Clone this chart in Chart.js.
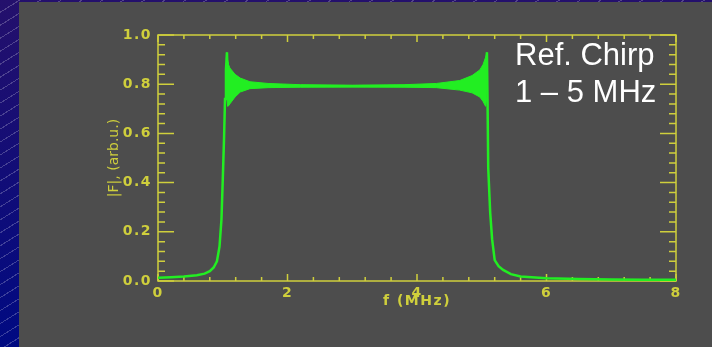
<!DOCTYPE html>
<html>
<head>
<meta charset="utf-8">
<script src="https://cdn.jsdelivr.net/npm/chart.js@4.4.1/dist/chart.umd.min.js"></script>
<style>
  html, body { margin: 0; padding: 0; }
  body {
    width: 712px;
    height: 347px;
    overflow: hidden;
    position: relative;
    background:
      repeating-linear-gradient(148deg, rgba(255,255,255,0) 0 10px, rgba(255,255,255,0.22) 10px 11px),
      linear-gradient(#24106c, #000a82);
  }
  #panel { position: absolute; left: 19px; top: 2px; right: 0; bottom: 0; background: #4d4d4d; }
  #chart { position: absolute; left: 0; top: 0; }
</style>
</head>
<body>
<div id="panel"></div>
<canvas id="chart" width="712" height="347"></canvas>
<script>
// rising edge (MHz, |F|)
const riseFreq = [0, 0.2, 0.4, 0.6, 0.72, 0.8, 0.86, 0.91, 0.95, 0.98, 1.0, 1.02, 1.035, 1.05, 1.065];
const riseMag = [0.013, 0.015, 0.018, 0.023, 0.03, 0.04, 0.055, 0.08, 0.14, 0.25, 0.41, 0.58, 0.74, 0.86, 0.93];

// middle of the passband
const midFreq = [1.08, 1.2, 1.5, 2.0, 3.0, 4.0, 4.6, 4.9, 5.06];
const midMag = [0.78, 0.79, 0.794, 0.793, 0.792, 0.793, 0.794, 0.79, 0.78];

// falling edge
const fallFreq = [5.08, 5.09, 5.1, 5.13, 5.16, 5.2, 5.26, 5.33, 5.45, 5.6, 6.0, 6.5, 7.0, 7.5, 8.0];
const fallMag = [0.93, 0.72, 0.46, 0.28, 0.17, 0.085, 0.06, 0.045, 0.028, 0.018, 0.011, 0.008, 0.006, 0.005, 0.005];

// envelope of the ripple band
const bandFreq = [1.06, 1.075, 1.09, 1.11, 1.19, 1.27, 1.42, 1.7, 2.2, 3.0, 3.8, 4.3, 4.66, 4.85, 4.97, 5.02, 5.06, 5.08];
const bandUpper = [0.93, 0.90, 0.88, 0.866, 0.84, 0.825, 0.81, 0.803, 0.798, 0.796, 0.798, 0.803, 0.815, 0.835, 0.858, 0.88, 0.91, 0.93];
const bandLower = [0.76, 0.71, 0.712, 0.72, 0.748, 0.768, 0.782, 0.786, 0.788, 0.789, 0.788, 0.786, 0.776, 0.765, 0.748, 0.73, 0.71, 0.75];

const xTicks = [0, 2, 4, 6, 8];
const yTicks = [0, 0.2, 0.4, 0.6, 0.8, 1.0];
const labelLines = ["Ref. Chirp", "1 \u2013 5 MHz"];

document.addEventListener("DOMContentLoaded", () => {
    const yellow = "#cfcf3c";
    const green = "#22ee22";
    const tickFont = { family: "DejaVu Sans", size: 14, weight: "bold" };
    const titleFont = { family: "DejaVu Sans", size: 14 };

    const toPoints = (xs, ys) => xs.map((x, i) => ({ x: x, y: ys[i] }));

    const mainLine = toPoints(riseFreq, riseMag)
        .concat(toPoints(midFreq, midMag))
        .concat(toPoints(fallFreq, fallMag));

    // frame + inward ticks on all four sides, drawn from the scales
    const framePlugin = {
        id: "frame",
        beforeDraw(chart) {
            chart.ctx.letterSpacing = "0px";
        },
        beforeDatasetsDraw(chart) {
            const ctx = chart.ctx;
            const a = chart.chartArea;
            const xs = chart.scales.x;
            const ys = chart.scales.y;
            ctx.save();
            ctx.strokeStyle = yellow;
            ctx.lineWidth = 1.5;
            ctx.strokeRect(a.left, a.top, a.right - a.left, a.bottom - a.top);
            ctx.beginPath();
            for (let i = 0; i <= 20; i++) {
                const px = xs.getPixelForValue(i * 0.4);
                const len = i % 5 === 0 ? 7 : 4;
                ctx.moveTo(px, a.bottom);
                ctx.lineTo(px, a.bottom - len);
                ctx.moveTo(px, a.top);
                ctx.lineTo(px, a.top + len);
            }
            for (let i = 0; i <= 25; i++) {
                const py = ys.getPixelForValue(i * 0.04);
                const len = i % 5 === 0 ? 16 : 7;
                ctx.moveTo(a.left, py);
                ctx.lineTo(a.left + len, py);
                ctx.moveTo(a.right, py);
                ctx.lineTo(a.right - len, py);
            }
            ctx.stroke();
            ctx.restore();
        },
        afterDatasetsDraw(chart) {
            // tick labels and the x title come after this, wide spaced like the original
            chart.ctx.letterSpacing = "1.5px";
        },
        afterDraw(chart) {
            const ctx = chart.ctx;
            ctx.save();
            ctx.letterSpacing = "0px";
            ctx.fillStyle = "#ffffff";
            ctx.font = '31px "Liberation Sans"';
            ctx.textAlign = "left";
            ctx.textBaseline = "alphabetic";
            ctx.fillText(labelLines[0], 515, 65);
            ctx.fillText(labelLines[1], 515, 102);
            ctx.restore();
        },
    };

    new Chart(document.getElementById("chart"), {
        type: "line",
        data: {
            datasets: [
                {
                    data: toPoints(bandFreq, bandUpper),
                    borderColor: green,
                    borderWidth: 1,
                    pointRadius: 0,
                    fill: false,
                },
                {
                    data: toPoints(bandFreq, bandLower),
                    borderColor: green,
                    backgroundColor: green,
                    borderWidth: 1,
                    pointRadius: 0,
                    fill: "-1",
                },
                {
                    data: mainLine,
                    borderColor: green,
                    borderWidth: 2.5,
                    pointRadius: 0,
                    fill: false,
                    tension: 0,
                },
            ],
        },
        options: {
            responsive: false,
            animation: false,
            devicePixelRatio: 1,
            layout: { padding: { left: 106, top: 35, right: 36, bottom: 37 } },
            plugins: {
                legend: { display: false },
                tooltip: { enabled: false },
            },
            scales: {
                x: {
                    type: "linear",
                    min: 0,
                    max: 8,
                    afterFit(s) { s.height = 29; },
                    afterBuildTicks(s) { s.ticks = xTicks.map(v => ({ value: v })); },
                    grid: { display: false, drawTicks: false, z: 1 },
                    border: { display: false },
                    ticks: {
                        color: yellow,
                        font: tickFont,
                        padding: 4,
                        maxRotation: 0,
                        z: 1,
                        callback: v => String(v),
                    },
                    title: {
                        display: true,
                        text: "f (MHz)",
                        color: yellow,
                        font: tickFont,
                        padding: 0,
                    },
                },
                y: {
                    type: "linear",
                    min: 0,
                    max: 1,
                    afterFit(s) { s.width = 52; },
                    afterBuildTicks(s) { s.ticks = yTicks.map(v => ({ value: v })); },
                    grid: { display: false, drawTicks: false },
                    border: { display: false },
                    ticks: {
                        color: yellow,
                        font: tickFont,
                        padding: 6,
                        z: 1,
                        callback: v => v.toFixed(1),
                    },
                    title: {
                        display: true,
                        text: "|F|, (arb.u.)",
                        color: yellow,
                        font: titleFont,
                        padding: 0,
                    },
                },
            },
        },
        plugins: [framePlugin],
    });
});
</script>
</body>
</html>
